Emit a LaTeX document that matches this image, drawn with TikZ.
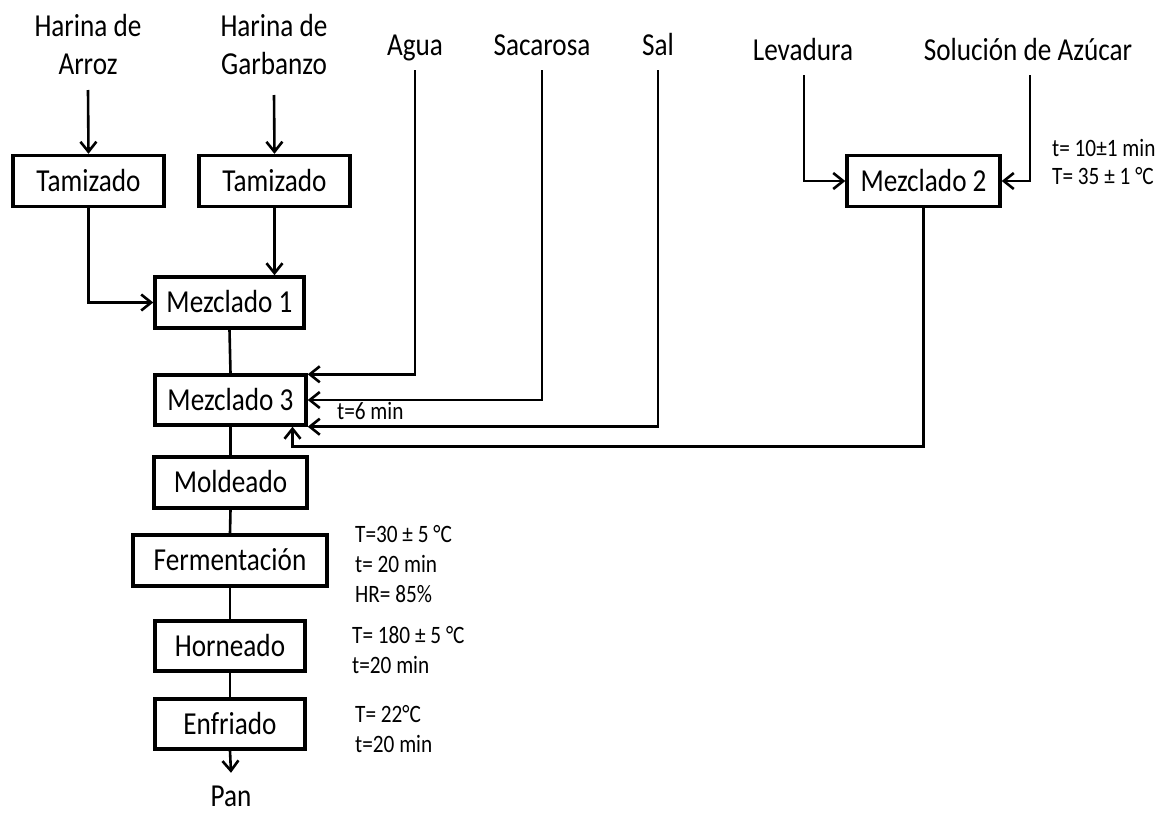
\documentclass[tikz,border=0pt]{standalone}
\usepackage{fontspec}
\setmainfont{Carlito}[FakeStretch=0.85]
\usetikzlibrary{arrows.meta}

\newcommand\lblfont{\fontsize{32}{38}\selectfont}
\newcommand\notefont{\fontsize{25}{30}\selectfont}

\tikzset{
  stepbox/.style={draw, line width=3.4pt, inner sep=0pt, font=\lblfont,
    text height=20pt, text depth=0pt, minimum width=151pt, minimum height=51pt},
  lbl/.style={inner sep=0pt, font=\lblfont, text height=22pt, text depth=6pt},
  lbltwo/.style={inner sep=0pt, font=\lblfont, align=center, anchor=south},
  note/.style={inner sep=0pt, font=\notefont, align=left, anchor=south west},
  conn/.style={line width=2.6pt},
  arr/.style={conn, -{Straight Barb[length=10pt,width=16pt]}}
}

\begin{document}
\begin{tikzpicture}[x=1pt, y=-1pt]
  \fill[white] (0,0) rectangle (1161,814);
  \useasboundingbox (0,0) rectangle (1161,814);

  % raw materials
  \node[lbltwo] (ha) at (88,75) {Harina de\\Arroz};
  \node[lbltwo] (hg) at (274,75) {Harina de\\Garbanzo};
  \node[lbl, anchor=base] (agua) at (415,55) {Agua};
  \node[lbl, anchor=base] (sac) at (542,55) {Sacarosa};
  \node[lbl, anchor=base] (sal) at (658,55) {Sal};
  \node[lbl, anchor=base] (lev) at (803,60) {Levadura};
  \node[lbl, anchor=base] (sol) at (1028,60) {Solución de Azúcar};

  % process steps
  \node[stepbox] (tam1) at (88.5,181) {Tamizado};
  \node[stepbox] (tam2) at (274.5,181) {Tamizado};
  \node[stepbox, minimum width=149pt] (mez1) at (229.5,302.5) {Mezclado 1};
  \node[stepbox, minimum width=153pt] (mez2) at (923.5,181) {Mezclado 2};
  \node[stepbox, minimum height=50pt] (mez3) at (230.5,400) {Mezclado 3};
  \node[stepbox, minimum width=153pt] (mold) at (230.5,482.5) {Moldeado};
  \node[stepbox, minimum width=194pt] (ferm) at (230,560.5) {Fermentación};
  \node[stepbox, minimum width=150pt, minimum height=50pt] (horn) at (230,646) {Horneado};
  \node[stepbox, minimum width=150pt, minimum height=50pt] (enfr) at (230,724) {Enfriado};
  \node[lbl, anchor=base, text depth=0pt] (pan) at (231,806) {Pan};

  % conditions
  \node[note, font=\fontsize{25}{28}\selectfont] (c2) at (1052,185) {t= 10±1 min\\T= 35 ± 1 °C};
  \node[note, anchor=base west] (c3) at (337,419) {t=6 min};
  \node[note] (cf) at (355,603) {T=30 ± 5 °C\\t= 20 min\\HR= 85\%};
  \node[note] (ch) at (352,674) {T= 180 ± 5 °C\\t=20 min};
  \node[note] (ce) at (355,753) {T= 22°C\\t=20 min};

  % connectors
  \draw[arr] ([yshift=-15pt]ha.south) -- (tam1.north);
  \draw[arr] ([yshift=-20pt]hg.south) -- (tam2.north);
  \draw[arr] (tam1.south) |- (mez1.west);
  \draw[arr] (tam2.south) -- (tam2.south |- mez1.north);
  \draw[conn] (mez1.south) -- (mez3.north);
  \draw[arr] ([yshift=-9pt]agua.south) |- ([yshift=-1pt]mez3.north east);
  \draw[arr] ([yshift=-9pt]sac.south) |- (mez3.east);
  \draw[arr] ([yshift=-9pt]sal.south) |- (mez3.south east);
  \draw[arr] ([xshift=1pt, yshift=-9pt]lev.south) |- (mez2.west);
  \draw[arr] ([xshift=2pt, yshift=-9pt]sol.south) |- (mez2.east);
  \coordinate (m3in) at ([xshift=62pt]mez3.south);
  \draw[arr] (mez2.south) |- ([yshift=-20pt]m3in) -- (m3in);
  \draw[conn] (mez3.south) -- (mold.north);
  \draw[conn] (mold.south) -- (ferm.north);
  \draw[conn] (ferm.south) -- (horn.north);
  \draw[conn] (horn.south) -- (enfr.north);
  \draw[arr] (enfr.south) -- ([yshift=11pt]pan.north);
\end{tikzpicture}
\end{document}
